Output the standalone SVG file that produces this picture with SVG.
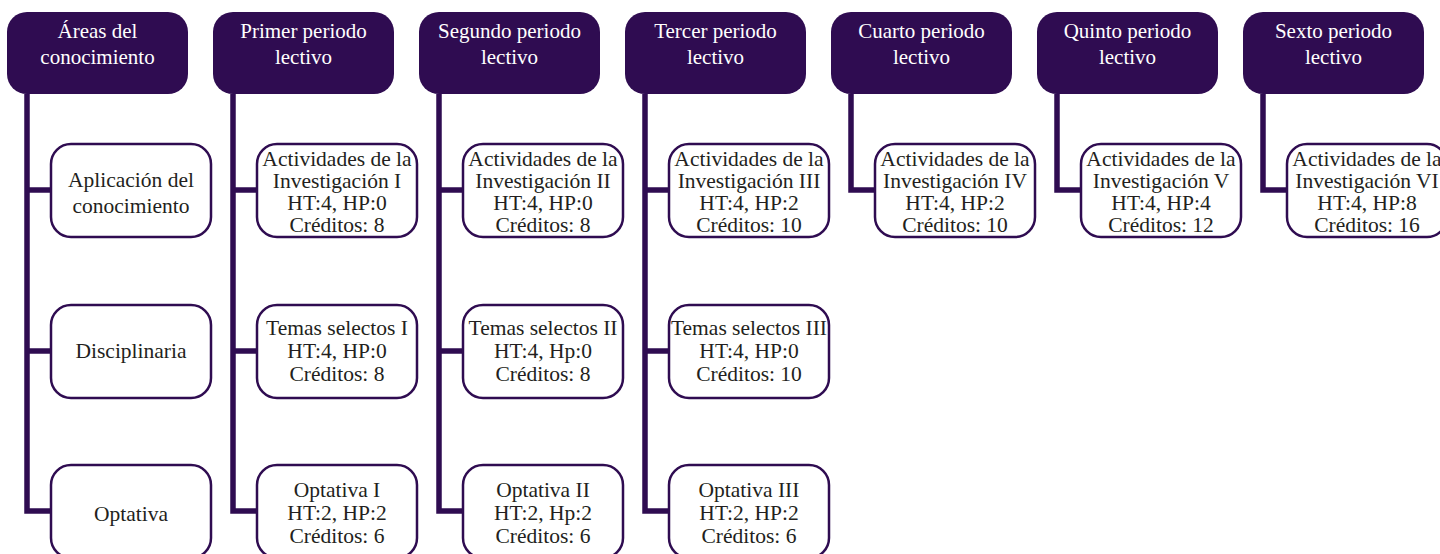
<svg xmlns="http://www.w3.org/2000/svg" width="1440" height="554" viewBox="0 0 1440 554">
<style>
.hd{fill:#2f0c51}
.cd{fill:#fff;stroke:#2f0c51;stroke-width:2.5}
.ht{font-family:"Liberation Serif",serif;font-size:21px;fill:#fff;text-anchor:middle}
.ct{font-family:"Liberation Serif",serif;font-size:21.5px;fill:#231f20;text-anchor:middle}
.ln{fill:none;stroke:#2f0c51;stroke-width:5.5;stroke-linejoin:miter}
</style>
<rect width="1440" height="554" fill="#fff"/>
<g id="connectors">
<path class="ln" d="M27,94 V511 H51 M27,190 H51 M27,351 H51"/>
<path class="ln" d="M233,94 V511 H257 M233,190 H257 M233,351 H257"/>
<path class="ln" d="M439,94 V511 H463 M439,190 H463 M439,351 H463"/>
<path class="ln" d="M645,94 V511 H669 M645,190 H669 M645,351 H669"/>
<path class="ln" d="M851,94 V190 H875"/>
<path class="ln" d="M1057,94 V190 H1081"/>
<path class="ln" d="M1263,94 V190 H1287"/>
</g>
<g id="h0"><rect class="hd" x="7" y="12" width="181" height="82" rx="20"/><text class="ht" x="97.5" y="38">Áreas del</text><text class="ht" x="97.5" y="64">conocimiento</text></g>
<g id="h1"><rect class="hd" x="213" y="12" width="181" height="82" rx="20"/><text class="ht" x="303.5" y="38">Primer periodo</text><text class="ht" x="303.5" y="64">lectivo</text></g>
<g id="h2"><rect class="hd" x="419" y="12" width="181" height="82" rx="20"/><text class="ht" x="509.5" y="38">Segundo periodo</text><text class="ht" x="509.5" y="64">lectivo</text></g>
<g id="h3"><rect class="hd" x="625" y="12" width="181" height="82" rx="20"/><text class="ht" x="715.5" y="38">Tercer periodo</text><text class="ht" x="715.5" y="64">lectivo</text></g>
<g id="h4"><rect class="hd" x="831" y="12" width="181" height="82" rx="20"/><text class="ht" x="921.5" y="38">Cuarto periodo</text><text class="ht" x="921.5" y="64">lectivo</text></g>
<g id="h5"><rect class="hd" x="1037" y="12" width="181" height="82" rx="20"/><text class="ht" x="1127.5" y="38">Quinto periodo</text><text class="ht" x="1127.5" y="64">lectivo</text></g>
<g id="h6"><rect class="hd" x="1243" y="12" width="181" height="82" rx="20"/><text class="ht" x="1333.5" y="38">Sexto periodo</text><text class="ht" x="1333.5" y="64">lectivo</text></g>

<g id="a1"><rect class="cd" x="51" y="144" width="160" height="93" rx="20"/><text class="ct" x="131" y="187">Aplicación del</text><text class="ct" x="131" y="213">conocimiento</text></g>
<g id="a2"><rect class="cd" x="51" y="305" width="160" height="93" rx="20"/><text class="ct" x="131" y="358">Disciplinaria</text></g>
<g id="a3"><rect class="cd" x="51" y="465" width="160" height="93" rx="20"/><text class="ct" x="131" y="521">Optativa</text></g>

<g id="p1a"><rect class="cd" x="257" y="144" width="160" height="93" rx="20"/><text class="ct" x="337" y="166">Actividades de la</text><text class="ct" x="337" y="188">Investigación I</text><text class="ct" x="337" y="210">HT:4, HP:0</text><text class="ct" x="337" y="232">Créditos: 8</text></g>
<g id="p1b"><rect class="cd" x="257" y="305" width="160" height="93" rx="20"/><text class="ct" x="337" y="335">Temas selectos I</text><text class="ct" x="337" y="358">HT:4, HP:0</text><text class="ct" x="337" y="381">Créditos: 8</text></g>
<g id="p1c"><rect class="cd" x="257" y="465" width="160" height="93" rx="20"/><text class="ct" x="337" y="497">Optativa I</text><text class="ct" x="337" y="520">HT:2, HP:2</text><text class="ct" x="337" y="543">Créditos: 6</text></g>

<g id="p2a"><rect class="cd" x="463" y="144" width="160" height="93" rx="20"/><text class="ct" x="543" y="166">Actividades de la</text><text class="ct" x="543" y="188">Investigación II</text><text class="ct" x="543" y="210">HT:4, HP:0</text><text class="ct" x="543" y="232">Créditos: 8</text></g>
<g id="p2b"><rect class="cd" x="463" y="305" width="160" height="93" rx="20"/><text class="ct" x="543" y="335">Temas selectos II</text><text class="ct" x="543" y="358">HT:4, Hp:0</text><text class="ct" x="543" y="381">Créditos: 8</text></g>
<g id="p2c"><rect class="cd" x="463" y="465" width="160" height="93" rx="20"/><text class="ct" x="543" y="497">Optativa II</text><text class="ct" x="543" y="520">HT:2, Hp:2</text><text class="ct" x="543" y="543">Créditos: 6</text></g>

<g id="p3a"><rect class="cd" x="669" y="144" width="160" height="93" rx="20"/><text class="ct" x="749" y="166">Actividades de la</text><text class="ct" x="749" y="188">Investigación III</text><text class="ct" x="749" y="210">HT:4, HP:2</text><text class="ct" x="749" y="232">Créditos: 10</text></g>
<g id="p3b"><rect class="cd" x="669" y="305" width="160" height="93" rx="20"/><text class="ct" x="749" y="335">Temas selectos III</text><text class="ct" x="749" y="358">HT:4, HP:0</text><text class="ct" x="749" y="381">Créditos: 10</text></g>
<g id="p3c"><rect class="cd" x="669" y="465" width="160" height="93" rx="20"/><text class="ct" x="749" y="497">Optativa III</text><text class="ct" x="749" y="520">HT:2, HP:2</text><text class="ct" x="749" y="543">Créditos: 6</text></g>

<g id="p4a"><rect class="cd" x="875" y="144" width="160" height="93" rx="20"/><text class="ct" x="955" y="166">Actividades de la</text><text class="ct" x="955" y="188">Investigación IV</text><text class="ct" x="955" y="210">HT:4, HP:2</text><text class="ct" x="955" y="232">Créditos: 10</text></g>
<g id="p5a"><rect class="cd" x="1081" y="144" width="160" height="93" rx="20"/><text class="ct" x="1161" y="166">Actividades de la</text><text class="ct" x="1161" y="188">Investigación V</text><text class="ct" x="1161" y="210">HT:4, HP:4</text><text class="ct" x="1161" y="232">Créditos: 12</text></g>
<g id="p6a"><rect class="cd" x="1287" y="144" width="160" height="93" rx="20"/><text class="ct" x="1367" y="166">Actividades de la</text><text class="ct" x="1367" y="188">Investigación VI</text><text class="ct" x="1367" y="210">HT:4, HP:8</text><text class="ct" x="1367" y="232">Créditos: 16</text></g>
</svg>
